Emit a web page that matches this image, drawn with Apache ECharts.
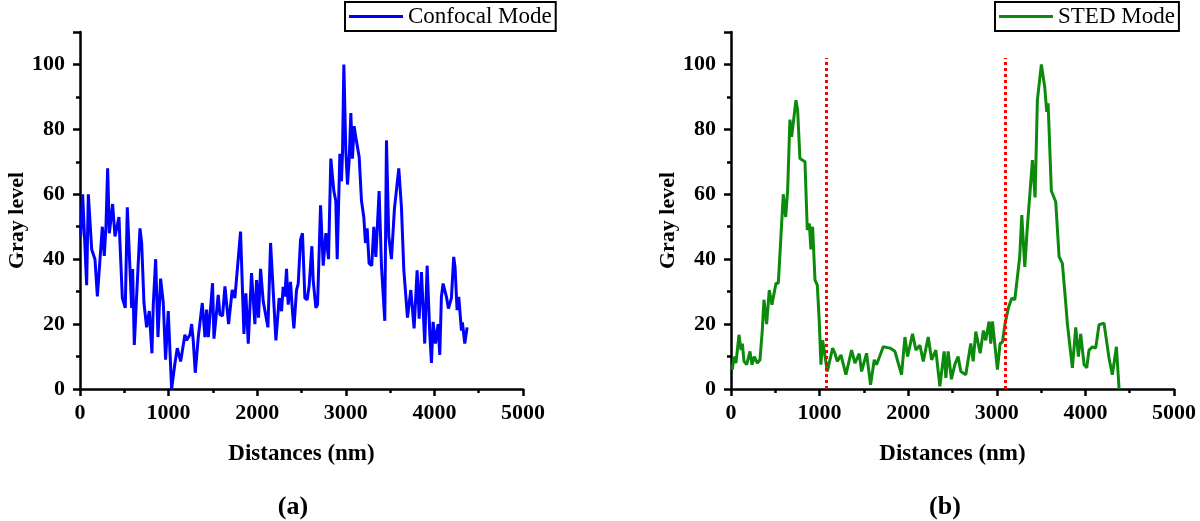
<!DOCTYPE html>
<html>
<head>
<meta charset="utf-8">
<script src="https://cdn.jsdelivr.net/npm/echarts@6/dist/echarts.min.js"></script>
<style>
  html, body { margin: 0; padding: 0; background: #fff; }
  #chart { width: 1200px; height: 521px; }
</style>
</head>
<body>
<div id="chart"></div>
<script>
// Confocal mode profile (panel a)
const confocalDist = [8, 30, 75, 94, 132, 169, 196, 252, 274, 293, 312, 331, 368, 395, 440, 451, 478, 511, 534, 564,
  583, 594, 613, 639, 677, 696, 722, 752, 782, 812, 827, 854, 880, 910, 940, 966, 996, 1034, 1072, 1098,
  1136, 1184, 1203, 1241, 1260, 1278, 1301, 1335, 1380, 1410, 1429, 1448, 1496, 1512, 1560, 1579, 1609, 1636, 1677, 1718,
  1748, 1812, 1850, 1872, 1899, 1936, 1974, 1993, 2015, 2038, 2068, 2121, 2151, 2211, 2248, 2275, 2293, 2312, 2331, 2350,
  2376, 2398, 2414, 2444, 2463, 2489, 2511, 2538, 2564, 2587, 2617, 2632, 2662, 2681, 2700, 2715, 2745, 2775, 2805, 2831,
  2865, 2887, 2903, 2933, 2951, 2963, 2978, 3000, 3019, 3038, 3057, 3075, 3094, 3113, 3151, 3177, 3203, 3222, 3241, 3263,
  3293, 3316, 3339, 3376, 3403, 3440, 3459, 3485, 3515, 3549, 3598, 3628, 3655, 3696, 3734, 3771, 3805, 3828, 3854, 3891,
  3918, 3948, 3967, 3985, 4012, 4042, 4061, 4079, 4098, 4136, 4158, 4192, 4218, 4233, 4256, 4275, 4305, 4316, 4343, 4369];
const confocalGray = [47, 60, 32, 60, 43, 40, 28.5, 50, 41, 50, 68, 48, 57, 47, 53, 45, 28, 25, 56, 37,
  25, 37, 13.6, 28.5, 49.5, 45, 26.5, 19, 24, 11, 26, 40, 16, 34, 26.5, 9, 24, 0, 8, 12.6,
  8.5, 16.7, 15, 16.7, 20, 15, 5, 16, 26.5, 16, 24.5, 16, 32.6, 15.5, 29, 23, 22.5, 31.6, 20, 30.5,
  28, 48.5, 17, 29.5, 14, 35.7, 20, 33.6, 22, 37, 27, 19, 45, 15, 28, 24, 31.5, 28.5, 37, 26,
  33, 24, 18.7, 30.5, 32.5, 46, 48, 28, 27.5, 32, 44, 33.5, 25, 26, 43, 56.6, 38, 48, 40, 71,
  61, 58, 40, 72.5, 64, 73, 100, 73.5, 63, 70.5, 85, 71, 81, 77.6, 71.5, 58, 53, 45, 49.5, 38.7,
  38, 50, 40.7, 61, 37.6, 21, 76.6, 47, 40, 55.6, 68, 56, 36.6, 22, 30.5, 18.7, 36.6, 21.7, 36, 14,
  38, 17, 8, 20.7, 14, 20, 10.5, 28.4, 32.5, 28.4, 24.8, 28, 40.7, 37.6, 24.3, 28.4, 18, 20.5, 14, 19];

// STED mode profile (panel b)
const stedDist = [15, 34, 56, 90, 113, 128, 147, 177, 214, 237, 263, 297, 327, 353, 372, 402, 432, 462, 508, 534,
  553, 590, 617, 639, 665, 684, 703, 733, 752, 778, 835, 861, 884, 902, 921, 948, 974, 996, 1015, 1034,
  1087, 1147, 1173, 1199, 1241, 1297, 1361, 1399, 1447, 1474, 1530, 1575, 1617, 1643, 1718, 1794, 1850, 1925, 1963, 1993,
  2049, 2087, 2132, 2170, 2226, 2264, 2312, 2357, 2406, 2425, 2451, 2488, 2526, 2563, 2594, 2650, 2706, 2733, 2763, 2812,
  2849, 2875, 2913, 2932, 2951, 3007, 3037, 3064, 3094, 3131, 3169, 3203, 3259, 3282, 3316, 3346, 3376, 3402, 3432, 3458,
  3503, 3541, 3564, 3579, 3616, 3665, 3703, 3740, 3778, 3797, 3819, 3853, 3891, 3921, 3947, 3985, 4015, 4041, 4079, 4116,
  4154, 4210, 4267, 4304, 4350, 4380];
const stedGray = [6, 10, 8, 16.7, 12, 14, 8.5, 7.5, 11.6, 7.5, 10, 8, 9, 18, 27.5, 20, 30.5, 26, 32.6, 32.6,
  41.8, 60, 53, 61, 83, 77.7, 82, 89, 86, 71, 70, 49, 51, 43, 50, 33.6, 32, 21, 7.5, 15,
  5.4, 12.6, 11, 8.5, 10.5, 4.4, 12, 8, 10.9, 5.4, 11, 1.3, 9, 7.5, 13, 12.6, 11.6, 4.4, 16, 10,
  17, 12, 13.5, 8.5, 16, 9, 12, 0.8, 11.6, 3.4, 11.6, 3, 7.5, 10, 5.4, 4.4, 14, 8.5, 17.7, 11,
  18, 15, 20.8, 14, 20.8, 6, 14, 14.5, 20.3, 25, 28, 27.5, 40.8, 53.6, 37.6, 50.5, 61, 70.5, 59, 89,
  100, 93, 85.4, 88, 61, 57.7, 40.8, 38.7, 26.5, 20, 19.5, 6.5, 19, 10, 17, 7.5, 6.5, 12, 13, 12.6,
  19.8, 20.3, 9.5, 4.4, 13, 0];

// red dotted boundaries in panel b
const dividerX = [1080, 3100];
const dividerTop = 102;

const xTicks = { min: 0, max: 5000, interval: 1000 };
const yTicks = { min: 0, max: 110, interval: 20 };

const FONT = "'Liberation Serif', 'DejaVu Serif', serif";

function zip(xs, ys) {
  return xs.map((x, i) => [x, ys[i]]);
}

function xAxisFor(gridIndex) {
  return {
    gridIndex,
    type: "value",
    min: xTicks.min,
    max: xTicks.max,
    interval: xTicks.interval,
    name: "Distances (nm)",
    nameLocation: "middle",
    nameGap: 54,
    nameTextStyle: { fontFamily: FONT, fontWeight: "bold", fontSize: 23, color: "#000" },
    axisLine: { lineStyle: { color: "#000", width: 2.5 } },
    axisTick: { length: 7, lineStyle: { color: "#000", width: 2.5 } },
    minorTick: { show: true, splitNumber: 2, length: 4, lineStyle: { color: "#000", width: 2.5 } },
    axisLabel: {
      margin: 13, fontFamily: FONT, fontWeight: "bold", fontSize: 22, color: "#000",
      formatter: v => String(v)
    },
    splitLine: { show: false }
  };
}

function yAxisFor(gridIndex) {
  return {
    gridIndex,
    type: "value",
    min: yTicks.min,
    max: yTicks.max,
    interval: yTicks.interval,
    name: "Gray level",
    nameLocation: "middle",
    nameGap: 50,
    nameTextStyle: {
      fontFamily: FONT, fontWeight: "bold", fontSize: 22, color: "#000",
      padding: [0, 20, 0, 0] // nudges the rotated name down a little
    },
    axisLine: { show: true, lineStyle: { color: "#000", width: 2.5 } },
    axisTick: { show: true, length: 7, lineStyle: { color: "#000", width: 2.5 } },
    minorTick: { show: true, splitNumber: 2, length: 4, lineStyle: { color: "#000", width: 2.5 } },
    axisLabel: { margin: 15, showMaxLabel: false, fontFamily: FONT, fontWeight: "bold", fontSize: 22, color: "#000" },
    splitLine: { show: false }
  };
}

function legendFor(left, name) {
  return {
    left,
    top: 2,
    data: [name],
    icon: "rect",
    itemWidth: 54,
    itemHeight: 3,
    itemGap: 0,
    padding: [3, 4, 3, 4],
    borderColor: "#000",
    borderWidth: 2,
    borderRadius: 0,
    selectedMode: false,
    textStyle: { fontFamily: FONT, fontSize: 23, color: "#000" }
  };
}

const chart = echarts.init(document.getElementById("chart"));

const option = {
  backgroundColor: "#fff",
  animation: false,
  title: [
    { text: "(a)", left: 288, top: 489, textAlign: "center",
      textStyle: { fontFamily: FONT, fontWeight: "bold", fontSize: 26, color: "#000" } },
    { text: "(b)", left: 940, top: 489, textAlign: "center",
      textStyle: { fontFamily: FONT, fontWeight: "bold", fontSize: 26, color: "#000" } }
  ],
  legend: [legendFor(345, "Confocal Mode"), legendFor(995, "STED Mode")],
  grid: [
    { left: 80, right: 677, top: 32, bottom: 132 },
    { left: 731, right: 26, top: 32, bottom: 132 }
  ],
  xAxis: [xAxisFor(0), xAxisFor(1)],
  yAxis: [yAxisFor(0), yAxisFor(1)],
  series: [
    {
      name: "Confocal Mode",
      type: "line",
      xAxisIndex: 0,
      yAxisIndex: 0,
      data: zip(confocalDist, confocalGray),
      showSymbol: false,
      color: "#0000ff",
      lineStyle: { width: 3, color: "#0000ff" }
    },
    {
      name: "STED Mode",
      type: "line",
      xAxisIndex: 1,
      yAxisIndex: 1,
      data: zip(stedDist, stedGray),
      showSymbol: false,
      color: "#0b8a0b",
      lineStyle: { width: 3, color: "#0b8a0b" },
      markLine: {
        silent: true,
        symbol: "none",
        label: { show: false },
        lineStyle: { color: "#ff0000", width: 3, type: [3, 3] },
        data: dividerX.map(x => [{ coord: [x, 0] }, { coord: [x, dividerTop] }])
      }
    }
  ]
};

option && chart.setOption(option);
</script>
</body>
</html>
